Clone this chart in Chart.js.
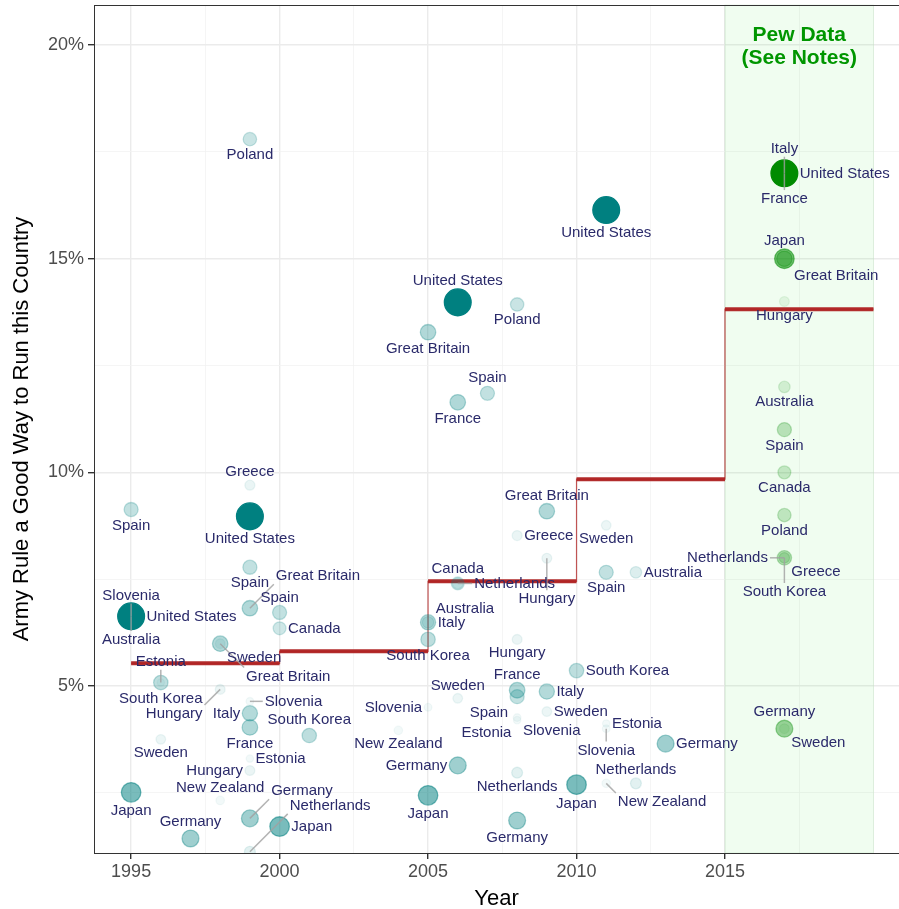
<!DOCTYPE html>
<html>
<head>
<meta charset="utf-8">
<script src="https://cdn.jsdelivr.net/npm/chart.js@4.4.1/dist/chart.umd.min.js"></script>
<style>
  html, body { margin: 0; padding: 0; background: #fff; }
</style>
</head>
<body>
<canvas id="armyChart" width="899" height="909"></canvas>
<script>
// World Values Survey / EVS waves
const wvsCountry = ['Spain','Australia','Slovenia','United States','Japan',
  'South Korea','Estonia','Sweden','Germany','Sweden','Great Britain','Hungary','New Zealand',
  'Poland','Greece','United States','Spain','Great Britain','Slovenia','Italy','France','Estonia','Hungary','Germany','Netherlands',
  'Spain','Canada','Japan','South Korea','New Zealand',
  'Great Britain','Australia','Italy','South Korea','Slovenia','Japan',
  'United States','France','Canada','Netherlands','Sweden','Germany','Spain',
  'Poland','Greece','Hungary','France','Spain','Slovenia','Estonia','Netherlands','Germany',
  'Great Britain','Hungary','Italy','Sweden','South Korea','Japan',
  'United States','Sweden','Spain','Estonia','Slovenia','New Zealand','Australia','Netherlands','Germany'];
const wvsYear = [1995,1995,1995,1995,1995,
  1996,1996,1996,1997,1998,1998,1998,1998,
  1999,1999,1999,1999,1999,1999,1999,1999,1999,1999,1999,1999,
  2000,2000,2000,2001,2004,
  2005,2005,2005,2005,2005,2005,
  2006,2006,2006,2006,2006,2006,2007,
  2008,2008,2008,2008,2008,2008,2008,2008,2008,
  2009,2009,2009,2009,2010,2010,
  2011,2011,2011,2011,2011,2011,2012,2012,2013];
const wvsValue = [9.13,6.63,6.63,6.63,2.51,
  5.08,5.08,3.75,1.43,5.99,5.99,4.92,2.32,
  17.80,9.70,8.97,7.78,6.82,4.64,4.36,4.03,3.30,3.02,1.90,1.12,
  6.72,6.35,1.71,3.84,3.96,
  13.28,6.49,6.49,6.09,4.50,2.44,
  13.98,11.64,7.40,7.40,4.71,3.14,11.85,
  13.93,8.52,6.09,4.90,4.75,4.26,4.20,2.97,1.85,
  9.09,7.99,4.87,4.40,5.36,2.69,
  16.14,8.76,7.66,4.12,4.00,2.72,7.66,2.72,3.65];

// Pew 2017
const pewCountry = ['France','Italy','United States','Great Britain','Japan','Hungary','Australia',
  'Spain','Canada','Poland','Greece','Netherlands','South Korea','Sweden','Germany'];
const pewYear = [2017,2017,2017,2017,2017,2017,2017,2017,2017,2017,2017,2017,2017,2017,2017];
const pewValue = [17,17,17,15,15,14,12,11,10,9,8,8,8,4,4];

// population, millions (mapped to point size and opacity)
const popCountry = ['United States','Japan','Germany','France','Great Britain','Italy','South Korea','Spain',
  'Poland','Canada','Australia','Netherlands','Greece','Hungary','Sweden','New Zealand','Slovenia','Estonia'];
const popMillions = [300,127,82,63,62,59,49,45,38,33,21,16.5,11,10,9.3,4.2,2,1.3];

// 5-year period averages
const periodStart = [1995, 2000, 2005, 2010, 2015];
const periodEnd = [2000, 2005, 2010, 2015, 2020];
const periodMean = [5.53, 5.81, 7.45, 9.84, 13.82];

const xTicks = [1995, 2000, 2005, 2010, 2015];
const yTicks = [5, 10, 15, 20];
const pewBand = [2015, 2020];

const TEAL = '0,128,128';
const GREEN = '0,139,0';
const LABEL_FONT = '15px "Liberation Sans", Arial, sans-serif';

function popOf(c) { return popMillions[popCountry.indexOf(c)]; }
function radiusFor(c) { return 3 + 0.6 * Math.sqrt(popOf(c)); }
function alphaFor(c) { return Math.max(0.05, Math.min(1, Math.pow(popOf(c) / 300, 0.75))); }

const wvsPoints = wvsYear.map((y, i) => ({ x: y, y: wvsValue[i], country: wvsCountry[i] }));
const pewPoints = pewYear.map((y, i) => ({ x: y, y: pewValue[i], country: pewCountry[i] }));

// thick horizontal segments, separated by gaps
const meanSegments = [];
const meanSteps = [];
for (let i = 0; i < periodMean.length; i++) {
  meanSegments.push({ x: periodStart[i], y: periodMean[i] }, { x: periodEnd[i], y: periodMean[i] });
  if (i < periodMean.length - 1) meanSegments.push({ x: periodEnd[i], y: null });
  meanSteps.push({ x: periodStart[i], y: periodMean[i] }, { x: periodEnd[i], y: periodMean[i] });
}

function minorSteps(lo, hi, step) {
  const out = [];
  for (let v = lo; v <= hi + 1e-9; v += step) out.push({ value: v });
  return out;
}

const bandPlugin = {
  id: 'pewBand',
  beforeDatasetsDraw(chart) {
    const { ctx, chartArea: a, scales } = chart;
    const x0 = scales.x.getPixelForValue(pewBand[0]);
    const x1 = scales.x.getPixelForValue(pewBand[1]);
    ctx.save();
    ctx.fillStyle = 'rgba(0,220,0,0.06)';
    ctx.fillRect(x0, a.top, x1 - x0, a.bottom - a.top);
    ctx.strokeStyle = 'rgba(0,160,0,0.08)';
    ctx.lineWidth = 1;
    ctx.strokeRect(x0, a.top, x1 - x0, a.bottom - a.top);
    const cx = (x0 + x1) / 2;
    ctx.fillStyle = 'rgb(0,150,0)';
    ctx.font = 'bold 21px "Liberation Sans", Arial, sans-serif';
    ctx.textAlign = 'center';
    ctx.textBaseline = 'middle';
    ctx.fillText('Pew Data', cx, 35);
    ctx.fillText('(See Notes)', cx, 58);
    ctx.restore();
  }
};

const labelPlugin = {
  id: 'repelLabels',
  afterDatasetsDraw(chart) {
    const ctx = chart.ctx, area = chart.chartArea;
    const pts = [];
    [0, 1].forEach(di => {
      const meta = chart.getDatasetMeta(di);
      meta.data.forEach((el, i) => {
        const raw = chart.data.datasets[di].data[i];
        pts.push({ x: el.x, y: el.y, r: radiusFor(raw.country), text: raw.country });
      });
    });
    ctx.save();
    ctx.font = LABEL_FONT;
    const clamp = (v, lo, hi) => Math.max(lo, Math.min(hi, v));
    const boxes = [];
    const hitsCircle = (b, p) => {
      const cx = clamp(p.x, b.l, b.r), cy = clamp(p.y, b.t, b.b);
      return (cx - p.x) ** 2 + (cy - p.y) ** 2 < (p.r + 1) ** 2;
    };
    // 0 means free; larger is worse
    const cost = b => {
      let s = 0;
      if (b.l < area.left + 2 || b.r > area.right - 2 || b.t < area.top + 2 || b.b > area.bottom - 2) s += 100;
      for (const o of boxes) if (b.l < o.r + 4 && b.r > o.l - 4 && b.t < o.b + 1 && b.b > o.t - 1) s += 10;
      for (const p of pts) if (hitsCircle(b, p)) s += 1;
      return s;
    };
    const dirs = [[0, 1], [0, -1], [1, 0], [-1, 0], [1, 1], [-1, 1], [1, -1], [-1, -1]];
    const placed = [];
    pts.forEach(p => {
      const w = ctx.measureText(p.text).width, h = 13;
      let pick = null, best = null, bestCost = Infinity;
      for (let k = 0; k <= 10 && !pick; k++) {
        for (const [sx, sy] of dirs) {
          const d = k * 9;
          let cx = p.x, cy = p.y;
          if (sx !== 0) cx += sx * (p.r + 2 + w / 2 + d * (sy !== 0 ? 0.6 : 1));
          if (sy !== 0) cy += sy * (p.r + 2 + h / 2 + d * (sx !== 0 ? 0.6 : 1));
          const b = { l: cx - w / 2, r: cx + w / 2, t: cy - h / 2, b: cy + h / 2, cx, cy };
          const c = cost(b);
          if (c === 0) { pick = b; break; }
          if (c < bestCost) { bestCost = c; best = b; }
        }
      }
      if (!pick) pick = best;
      boxes.push(pick);
      placed.push({ p, b: pick });
    });
    // leader lines
    ctx.strokeStyle = 'rgba(160,160,160,0.8)';
    ctx.lineWidth = 1.5;
    placed.forEach(({ p, b }) => {
      const nx = clamp(p.x, b.l - 2, b.r + 2), ny = clamp(p.y, b.t - 2, b.b + 2);
      const dist = Math.hypot(nx - p.x, ny - p.y);
      if (dist > p.r + 8) {
        ctx.beginPath();
        ctx.moveTo(p.x, p.y);
        ctx.lineTo(nx, ny);
        ctx.stroke();
      }
    });
    ctx.fillStyle = '#2a2a6a';
    ctx.textAlign = 'center';
    ctx.textBaseline = 'middle';
    placed.forEach(({ p, b }) => ctx.fillText(p.text, b.cx, b.cy + 0.5));
    ctx.restore();
  }
};

const borderPlugin = {
  id: 'panelBorder',
  afterDraw(chart) {
    const { ctx, chartArea: a } = chart;
    ctx.save();
    ctx.strokeStyle = '#333333';
    ctx.lineWidth = 1;
    ctx.strokeRect(a.left + 0.5, a.top + 0.5, a.right - a.left + 10, a.bottom - a.top);
    ctx.restore();
  }
};

const pointStyle = rgb => ({
  pointRadius: c => radiusFor(c.raw.country),
  pointHoverRadius: c => radiusFor(c.raw.country),
  pointBackgroundColor: c => 'rgba(' + rgb + ',' + alphaFor(c.raw.country) + ')',
  pointBorderColor: c => 'rgba(' + rgb + ',' + alphaFor(c.raw.country) + ')',
  pointBorderWidth: 1.3
});

new Chart(document.getElementById('armyChart'), {
  type: 'scatter',
  data: {
    datasets: [
      Object.assign({ label: 'WVS', data: wvsPoints, showLine: false }, pointStyle(TEAL)),
      Object.assign({ label: 'Pew', data: pewPoints, showLine: false }, pointStyle(GREEN)),
      { type: 'line', label: 'step', data: meanSteps, borderColor: 'rgba(178,34,34,0.75)', borderWidth: 1.2,
        pointRadius: 0, fill: false, tension: 0 },
      { type: 'line', label: 'mean', data: meanSegments, borderColor: '#b22d2d', borderWidth: 4,
        pointRadius: 0, fill: false, spanGaps: false, tension: 0, borderCapStyle: 'butt' }
    ]
  },
  options: {
    responsive: false,
    animation: false,
    layout: { autoPadding: false, padding: { top: 5, right: 0, left: 0, bottom: 0 } },
    plugins: { legend: { display: false }, tooltip: { enabled: false } },
    scales: {
      x: {
        type: 'linear', min: 1993.75, max: 2020.86,
        afterBuildTicks: s => { s.ticks = minorSteps(1995, 2020, 2.5); },
        afterFit: s => { s.height = 56; },
        border: { display: false },
        grid: {
          color: c => xTicks.includes(c.tick.value) ? '#ebebeb' : '#f3f3f3',
          lineWidth: c => xTicks.includes(c.tick.value) ? 1.4 : 0.8,
          tickColor: c => xTicks.includes(c.tick.value) ? '#333333' : 'rgba(0,0,0,0)',
          tickLength: 6
        },
        ticks: {
          autoSkip: false, maxRotation: 0, padding: 2,
          color: '#4d4d4d', font: { size: 18, family: '"Liberation Sans", Arial, sans-serif' },
          callback: v => xTicks.includes(v) ? String(v) : ''
        },
        title: { display: true, text: 'Year', color: '#000', padding: { top: 0, bottom: -3 },
          font: { size: 22, family: '"Liberation Sans", Arial, sans-serif' } }
      },
      y: {
        type: 'linear', min: 1.09, max: 20.94,
        afterBuildTicks: s => { s.ticks = minorSteps(2.5, 20, 2.5); },
        afterFit: s => { s.width = 94; },
        border: { display: false },
        grid: {
          color: c => yTicks.includes(c.tick.value) ? '#ebebeb' : '#f3f3f3',
          lineWidth: c => yTicks.includes(c.tick.value) ? 1.4 : 0.8,
          tickColor: c => yTicks.includes(c.tick.value) ? '#333333' : 'rgba(0,0,0,0)',
          tickLength: 6
        },
        ticks: {
          autoSkip: false, padding: 4,
          color: '#4d4d4d', font: { size: 18, lineHeight: 0.1, family: '"Liberation Sans", Arial, sans-serif' },
          callback: v => yTicks.includes(v) ? v + '%' : ''
        },
        title: { display: true, text: 'Army Rule a Good Way to Run this Country', color: '#000',
          padding: { top: 9, bottom: 0 },
          font: { size: 22, family: '"Liberation Sans", Arial, sans-serif' } }
      }
    }
  },
  plugins: [bandPlugin, labelPlugin, borderPlugin]
});
</script>
</body>
</html>
